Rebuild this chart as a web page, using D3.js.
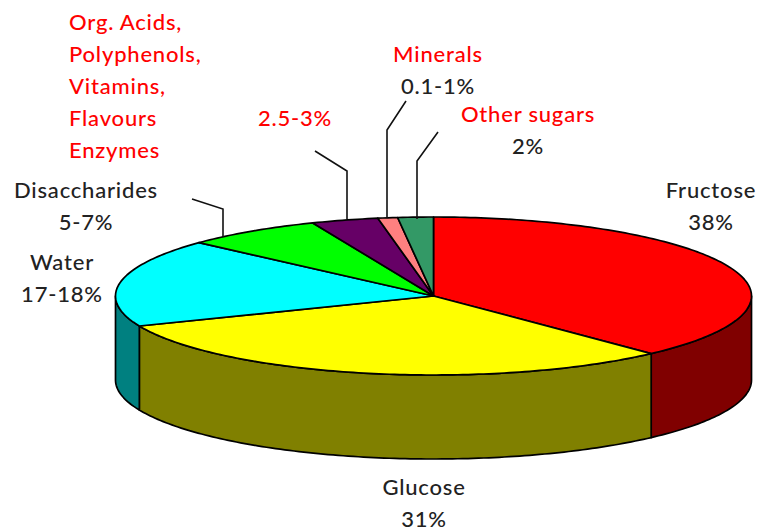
<!DOCTYPE html>
<html>
<head>
<meta charset="utf-8">
<script src="https://cdn.jsdelivr.net/npm/d3@7"></script>
<style>
html, body { margin: 0; background: #fff; }
text { font-family: Lato, "Open Sans", sans-serif; font-size: 22px; font-weight: 500; letter-spacing: 0.8px; }
</style>
</head>
<body>
<div id="graph"></div>
<script>
// values, in drawing order clockwise from 12 o'clock
var categories = ['Fructose', 'Glucose', 'Water', 'Disaccharides', 'Acids etc', 'Minerals', 'Other sugars']
var shares = [38, 30.8, 18, 7, 3.4, 1, 1.8]
var topColors = ['#ff0000', '#ffff00', '#00ffff', '#00ff00', '#660066', '#ff8080', '#339966']
var wallColors = ['#800000', '#808000', '#008080', '#008000', '#330033', '#804040', '#1a4d33']

var labelLines = [
	['Fructose', '38%'],
	['Glucose', '31%'],
	['Water', '17-18%'],
	['Disaccharides', '5-7%'],
	['Org. Acids,', 'Polyphenols,', 'Vitamins,', 'Flavours', 'Enzymes'],
	['2.5-3%'],
	['Minerals', '0.1-1%'],
	['Other sugars', '2%']
]
var labelColors = [
	['#222', '#222'],
	['#222', '#222'],
	['#222', '#222'],
	['#222', '#222'],
	['#ff0000', '#ff0000', '#ff0000', '#ff0000', '#ff0000'],
	['#ff0000'],
	['#ff0000', '#222'],
	['#ff0000', '#222']
]
// x, first baseline, anchor, for each label
var labelPlaces = [
	[711, 198, 'middle'],
	[424, 495, 'middle'],
	[62, 270, 'middle'],
	[86, 198, 'middle'],
	[69, 30, 'start'],
	[295, 126, 'middle'],
	[438, 62, 'middle'],
	[528, 122, 'middle']
]
var leaders = [
	[[192, 199], [223, 209], [223, 237]],
	[[315, 151], [347, 171], [347, 219]],
	[[406, 101], [387, 130], [387, 218]],
	[[438, 132], [417, 161], [417, 219]]
]

var depth = 84
var lineHeight = 32

var svg = d3.select('#graph').append('svg')
	.attr('width', 760)
	.attr('height', 530)
	.style('display', 'block')

var xScale = d3.scaleLinear().domain([-1, 1]).range([115.5, 751.5])
var yScale = d3.scaleLinear().domain([-1, 1]).range([217, 375])

var slices = d3.pie().sort(null).value(function(d) { return d })(shares)
var line = d3.line()

function rimPoint(angle, drop) {
	return [xScale(Math.sin(angle)), yScale(-Math.cos(angle)) + drop]
}

// points along the rim between two angles
function rim(a0, a1, drop) {
	var n = Math.max(2, Math.ceil(Math.abs(a1 - a0) * 60))
	return d3.range(n + 1).map(function(i) {
		return rimPoint(a0 + (a1 - a0) * i / n, drop)
	})
}

// walls, only the part of each slice that faces the front
slices.forEach(function(s, i) {
	var a0 = Math.max(s.startAngle, Math.PI / 2)
	var a1 = Math.min(s.endAngle, Math.PI * 1.5)
	if (a1 <= a0) return
	svg.append('path')
		.attr('d', line(rim(a0, a1, 0).concat(rim(a1, a0, depth))) + 'Z')
		.attr('fill', wallColors[i])
		.attr('stroke', '#000')
		.attr('stroke-width', 1.7)
		.attr('stroke-linejoin', 'round')
})

// top face
slices.forEach(function(s, i) {
	var centre = [xScale(0), yScale(0)]
	svg.append('path')
		.attr('d', line([centre].concat(rim(s.startAngle, s.endAngle, 0))) + 'Z')
		.attr('fill', topColors[i])
		.attr('stroke', '#000')
		.attr('stroke-width', 1.7)
		.attr('stroke-linejoin', 'round')
})

svg.selectAll('.leader')
	.data(leaders)
	.enter().append('path')
	.attr('class', 'leader')
	.attr('d', function(d) { return line(d) })
	.attr('fill', 'none')
	.attr('stroke', '#111')
	.attr('stroke-width', 1.6)

labelLines.forEach(function(lines, i) {
	var place = labelPlaces[i]
	lines.forEach(function(t, j) {
		svg.append('text')
			.attr('x', place[0])
			.attr('y', place[1] + j * lineHeight)
			.attr('text-anchor', place[2])
			.attr('fill', labelColors[i][j])
			.text(t)
	})
})
</script>
</body>
</html>
